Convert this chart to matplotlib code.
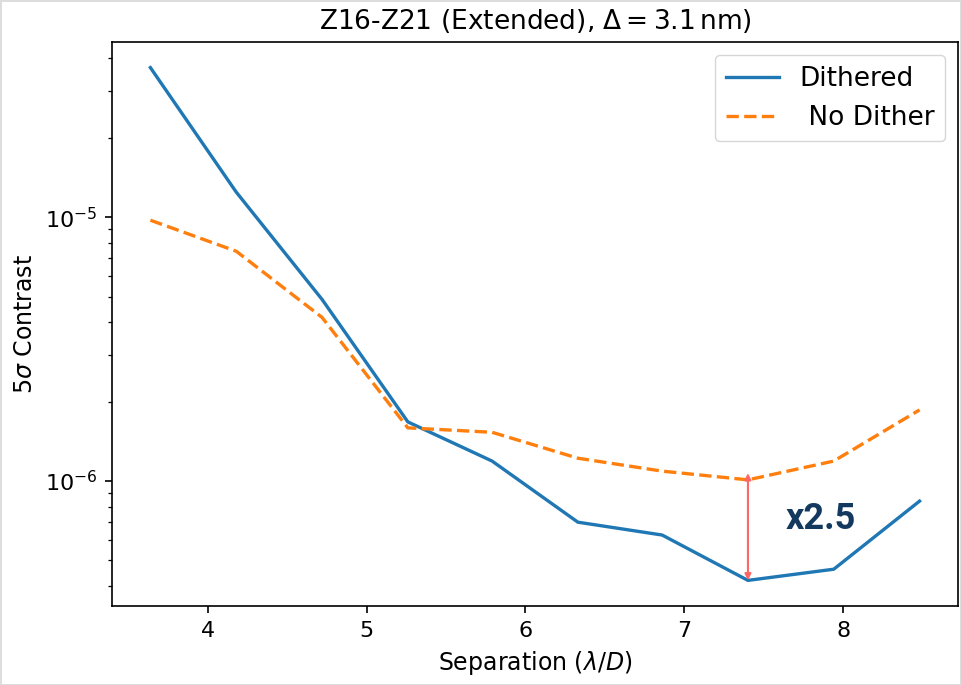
import numpy as np
import matplotlib.pyplot as plt

# separations in lambda/D
separation = [3.64, 4.18, 4.72, 5.26, 5.79, 6.33, 6.86, 7.40, 7.94, 8.48]
# 5 sigma contrast curves
dithered = [3.69e-5, 1.245e-5, 4.88e-6, 1.675e-6, 1.19e-6, 6.98e-7, 6.24e-7, 4.2e-7, 4.63e-7, 8.39e-7]
no_dither = [9.74e-6, 7.43e-6, 4.17e-6, 1.59e-6, 1.53e-6, 1.22e-6, 1.09e-6, 1.01e-6, 1.19e-6, 1.86e-6]
gain_label = 'x2.5'
gain_idx = 7

# original was made at a higher dpi, scale sizes up by 1.5
plt.rcParams['axes.linewidth'] = 1.2
plt.rcParams['xtick.major.size'] = 5.25
plt.rcParams['ytick.major.size'] = 5.25
plt.rcParams['ytick.minor.size'] = 3.0
plt.rcParams['xtick.major.width'] = 1.2
plt.rcParams['ytick.major.width'] = 1.2
plt.rcParams['ytick.minor.width'] = 0.9
plt.rcParams['xtick.major.pad'] = 5.25
plt.rcParams['ytick.major.pad'] = 5.25
plt.rcParams['axes.labelpad'] = 6
plt.rcParams['axes.titlepad'] = 9

fig = plt.figure(figsize=(9.61, 6.85), dpi=100)
fig.patch.set_edgecolor('#dddddd')
fig.patch.set_linewidth(2)
ax = fig.add_axes([0.1165, 0.1153, 0.8804, 0.8234])

ax.plot(separation, dithered, color='#1f77b4', lw=2.4, label='Dithered')
ax.plot(separation, no_dither, color='#ff7f0e', lw=2.4, ls='--', label=' No Dither')
ax.set_yscale('log')

# arrow showing the improvement
ax.annotate('', xy=(separation[gain_idx], dithered[gain_idx]),
            xytext=(separation[gain_idx], no_dither[gain_idx] * 1.06),
            arrowprops=dict(arrowstyle='<|-|>', color='#ff6666', lw=1.5,
                            mutation_scale=9, shrinkA=0, shrinkB=0))
ax.text(7.86, 7.2e-7, gain_label, fontsize=26, fontweight='bold',
        family='Roboto', color='#133a5e', ha='center', va='center')

ax.set_title(r'Z16-Z21 (Extended), $\Delta = 3.1\,\mathrm{nm}$)', fontsize=19)
ax.set_xlabel(r'Separation ($\lambda/D$)', fontsize=17)
ax.set_ylabel(r'5$\sigma$ Contrast', fontsize=17)
ax.tick_params(labelsize=16)
ax.legend(fontsize=19, loc='upper right')

fig.savefig('out.png', dpi=100)
